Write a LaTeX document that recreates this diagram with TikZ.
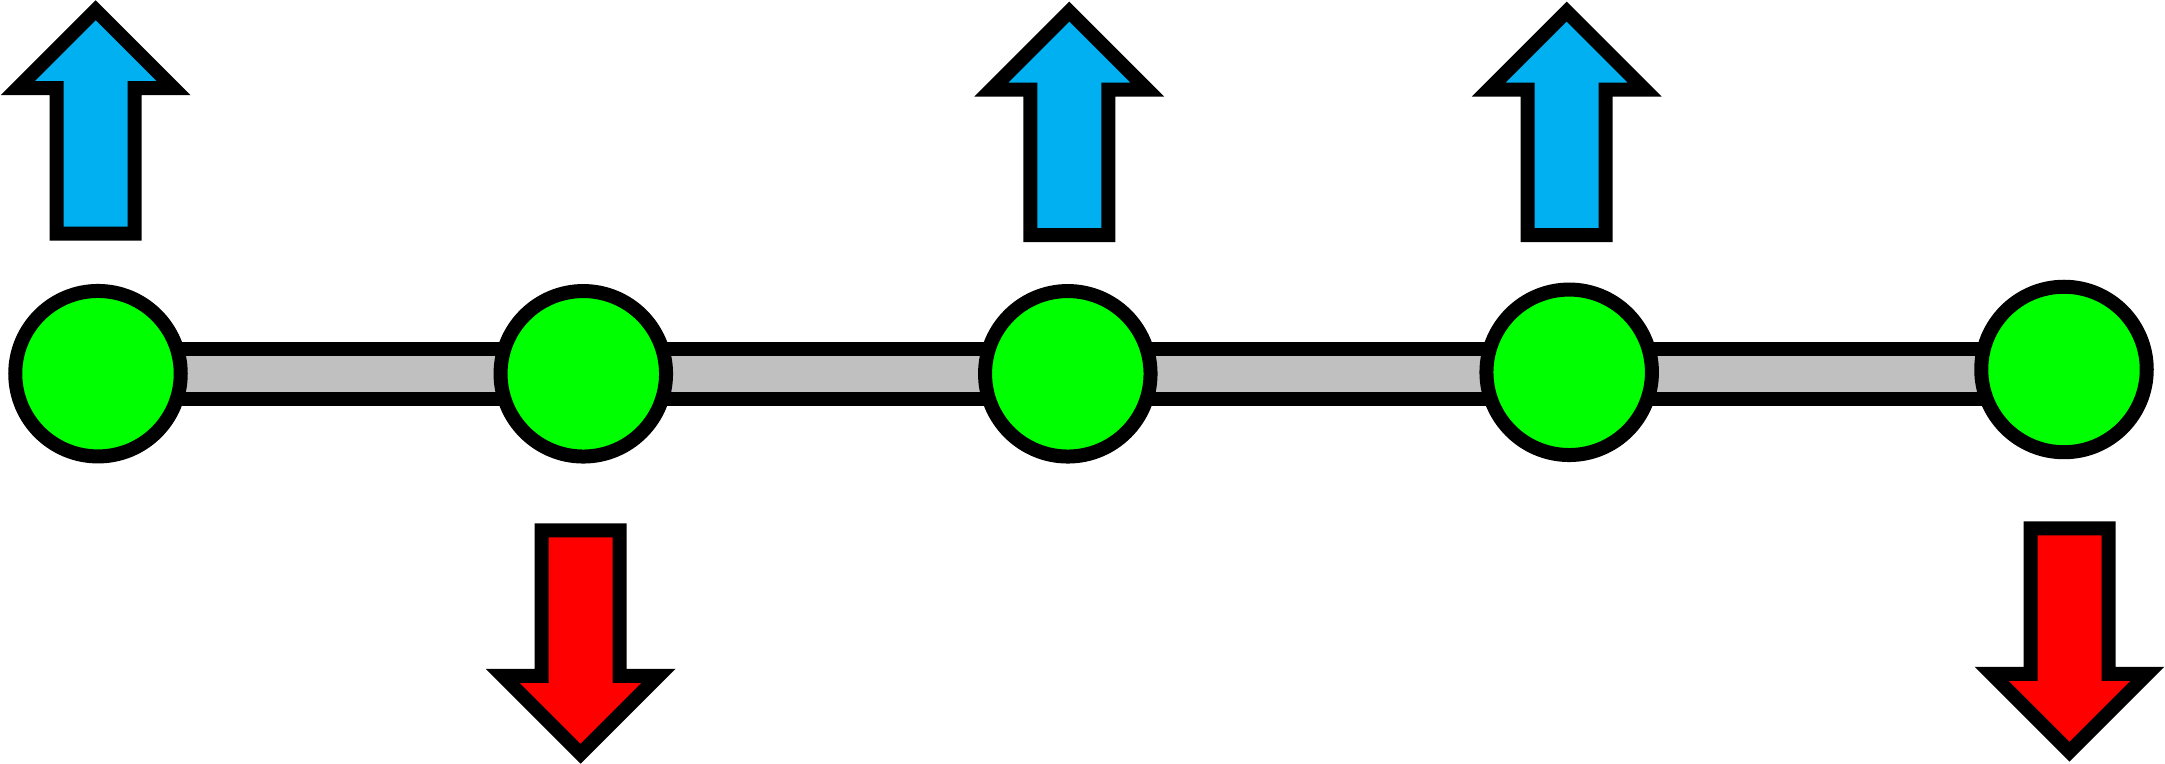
\documentclass[tikz,border=0pt]{standalone}
\usetikzlibrary{calc}
\definecolor{arrblue}{HTML}{00B0F0}
\definecolor{nodegreen}{HTML}{00FF00}
\definecolor{arrred}{HTML}{FF0000}
\definecolor{bargray}{HTML}{C0C0C0}
\tikzset{
  outline/.style={draw=black, line width=0.14cm, line join=miter, miter limit=10},
  ball/.style={outline, circle, fill=nodegreen, minimum size=1.654cm, inner sep=0pt},
  barbox/.style={outline, fill=bargray},
  uparrow/.pic={\draw[outline, fill=arrblue] (0,0) -- (78,78) -- (39,78) -- (39,223.5) -- (-39,223.5) -- (-39,78) -- (-78,78) -- cycle;},
  downarrow/.pic={\draw[outline, fill=arrred] (0,0) -- (78,-78) -- (39,-78) -- (39,-223.5) -- (-39,-223.5) -- (-39,-78) -- (-78,-78) -- cycle;}
}
\begin{document}
\begin{tikzpicture}[x=0.01cm, y=-0.01cm]
\useasboundingbox (0,0) rectangle (2165,764);
\coordinate (bt) at (0,349.3);
\coordinate (bb) at (0,398.7);
\coordinate (c1pos) at (98,373.7);
\coordinate (c5pos) at (2064,369.5);
% bar behind the nodes
\draw[barbox] (c1pos |- bt) rectangle (c5pos |- bb);
% nodes
\node[ball] (c1) at (c1pos) {};
\node[ball] (c2) at (583.3,373.8) {};
\node[ball] (c3) at (1067.8,373.8) {};
\node[ball] (c4) at (1569.2,372.3) {};
\node[ball] (c5) at (c5pos) {};
% up arrows
\pic at (95.7,10.2) {uparrow};
\pic at (1069.3,11.6) {uparrow};
\pic at (1566.7,11.6) {uparrow};
% down arrows
\pic at (580.6,753.8) {downarrow};
\pic at (2069.5,751.8) {downarrow};
\end{tikzpicture}
\end{document}
